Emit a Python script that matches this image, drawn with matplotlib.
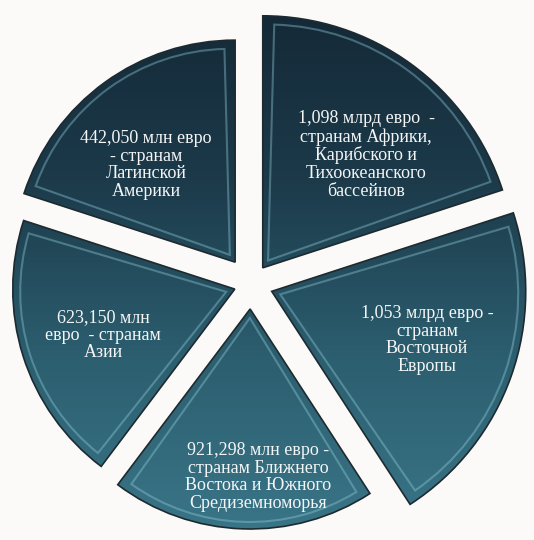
import numpy as np
import matplotlib
matplotlib.use("Agg")
import matplotlib.pyplot as plt
from matplotlib.patches import Wedge

# Подписи секторов (по часовой стрелке от 12 часов)
labels = [
    "1,098 млрд евро  -\nстранам Африки,\nКарибского и\nТихоокеанского\nбассейнов",
    "1,053 млрд евро -\nстранам\nВосточной\nЕвропы",
    "921,298 млн евро -\nстранам Ближнего\nВостока и Южного\nСредиземноморья",
    "623,150 млн\nевро  - странам\nАзии",
    "442,050 млн евро\n- странам\nЛатинской\nАмерики",
]
# угловые размеры секторов, как на картинке (градусы)
sizes = [72, 75, 70, 71, 72]

# оформление
radii = [252, 254, 220, 222, 222]
explode = [20, 22, 25, 17, 27]
label_xy = [(366, 155), (427, 340), (258, 477), (103, 335), (146, 165)]

W, H = 534, 540
cx, cy = 251, H - 284

fig = plt.figure(figsize=(5.34, 5.40), dpi=100)
fig.patch.set_facecolor("#fbfaf9")
ax = fig.add_axes([0, 0, 1, 1])
ax.set_xlim(0, W)
ax.set_ylim(0, H)
ax.set_aspect("equal")
ax.axis("off")

# вертикальный градиент: сверху тёмный, снизу светлее
grad = np.linspace(0, 1, 256).reshape(-1, 1)
cmap = matplotlib.colors.LinearSegmentedColormap.from_list(
    "teal", ["#3a7688", "#2c5f70", "#1c3a4a", "#142836"])

start = 90
for i, s in enumerate(sizes):
    t2 = start
    t1 = start - s
    start = t1
    mid = np.deg2rad((t1 + t2) / 2)
    ox = cx + explode[i] * np.cos(mid)
    oy = cy + explode[i] * np.sin(mid)
    r = radii[i]

    w = Wedge((ox, oy), r, t1, t2, facecolor="none", edgecolor="#1d2a2f", lw=1.2, zorder=3)
    ax.add_patch(w)
    im = ax.imshow(grad, cmap=cmap, extent=[0, W, 0, H], origin="lower",
                   aspect="auto", zorder=2)
    im.set_clip_path(w)

    # светлый внутренний кант
    ix = ox + 9 * np.cos(mid)
    iy = oy + 9 * np.sin(mid)
    inner = Wedge((ix, iy), r - 16, t1 + 1.5, t2 - 1.5,
                  facecolor="none", edgecolor="#8fcbd9", lw=1.5, alpha=0.4, zorder=4)
    ax.add_patch(inner)

    ax.text(label_xy[i][0], H - label_xy[i][1], labels[i], ha="center", va="center",
            color="#f4f6f6", fontsize=13, family="Liberation Serif",
            linespacing=1.05, zorder=5)

plt.savefig("out.png", dpi=100, facecolor=fig.get_facecolor())
